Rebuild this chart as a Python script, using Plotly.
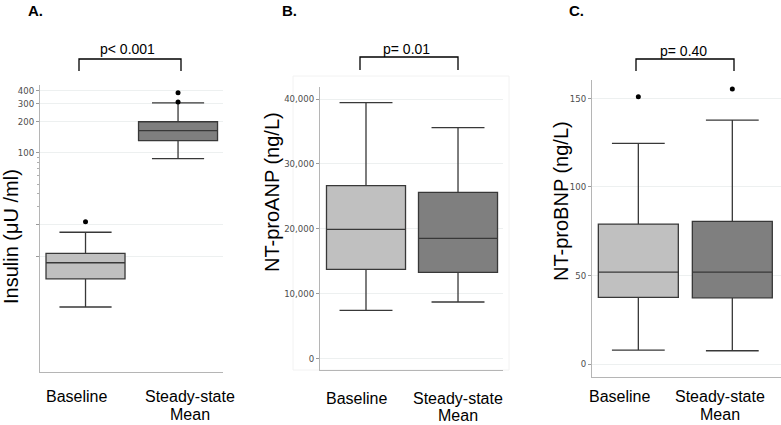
import plotly.graph_objects as go

W, H = 781, 425

# ---------------- data ----------------
groups = ["Baseline", "Steady-state Mean"]

# Insulin (μU/ml): q1, median, q3, lower whisker, upper whisker
ins_q1 = [6.0, 131.6]
ins_med = [8.6, 164.6]
ins_q3 = [10.6, 201.0]
ins_lo = [3.2, 88.0]
ins_hi = [17.0, 306.0]
ins_out = [[21.5], [313.0, 385.0]]

# NT-proANP (ng/L)
anp_q1 = [13735, 13272]
anp_med = [19907, 18519]
anp_q3 = [26636, 25617]
anp_lo = [7407, 8688]
anp_hi = [39444, 35586]
anp_out = [[], []]

# NT-proBNP (ng/L)
bnp_q1 = [37.6, 37.4]
bnp_med = [51.9, 51.9]
bnp_q3 = [79.0, 80.5]
bnp_lo = [7.9, 7.5]
bnp_hi = [124.5, 137.7]
bnp_out = [[150.9], [155.2]]

p_values = ["p< 0.001", "p= 0.01", "p= 0.40"]
panel_tags = ["A.", "B.", "C."]
y_titles = ["Insulin (μU /ml)", "NT-proANP (ng/L)", "NT-proBNP (ng/L)"]

fills = ["#c0c0c0", "#7f7f7f"]
LINE = "#383838"
MAIN_FONT = "Arial, Liberation Sans, sans-serif"
TICK_FONT = "DejaVu Sans Condensed, Liberation Sans Narrow, Arial Narrow, sans-serif"


def px(x):
    return x / W


def py(y):
    return 1 - y / H


fig = go.Figure()

panels = [
    dict(q1=ins_q1, med=ins_med, q3=ins_q3, lo=ins_lo, hi=ins_hi, out=ins_out,
         xd=[40, 223], yd=[85, 372], width=0.854, ww=0.66),
    dict(q1=anp_q1, med=anp_med, q3=anp_q3, lo=anp_lo, hi=anp_hi, out=anp_out,
         xd=[320, 503], yd=[87, 370], width=0.859, ww=0.67),
    dict(q1=bnp_q1, med=bnp_med, q3=bnp_q3, lo=bnp_lo, hi=bnp_hi, out=bnp_out,
         xd=[592, 781], yd=[80, 377], width=0.851, ww=0.66),
]

for k, p in enumerate(panels):
    xa = "x" if k == 0 else f"x{k+1}"
    ya = "y" if k == 0 else f"y{k+1}"
    for i in range(2):
        fig.add_trace(go.Box(
            x=[i], q1=[p["q1"][i]], median=[p["med"][i]], q3=[p["q3"][i]],
            lowerfence=[p["lo"][i]], upperfence=[p["hi"][i]],
            width=p["width"], whiskerwidth=p["ww"],
            fillcolor=fills[i], line=dict(color=LINE, width=1.3),
            boxpoints=False, showlegend=False, name=groups[i],
            xaxis=xa, yaxis=ya, hoverinfo="skip"))
        if p["out"][i]:
            fig.add_trace(go.Scatter(
                x=[i] * len(p["out"][i]), y=p["out"][i], mode="markers",
                marker=dict(color="black", size=5), showlegend=False,
                xaxis=xa, yaxis=ya, hoverinfo="skip"))

axis_common = dict(showline=True, linecolor="#b5b5b5", linewidth=1,
                   zeroline=False)
grid_col = "#edf0f0"
tickfont = dict(family=TICK_FONT, size=9.5, color="#4d4d4d")

layout = dict(width=W, height=H, margin=dict(l=0, r=0, t=0, b=0),
              autosize=False, plot_bgcolor="white", paper_bgcolor="white")

# x axes
xranges = [[-0.492, 1.486], [-0.5, 1.489], [-0.493, 1.518]]
for k, p in enumerate(panels):
    key = "xaxis" if k == 0 else f"xaxis{k+1}"
    layout[key] = dict(domain=[px(p["xd"][0]), px(p["xd"][1])],
                       range=xranges[k], showticklabels=False, ticks="",
                       showgrid=False, anchor="y" if k == 0 else f"y{k+1}",
                       **axis_common)

# y axes
layout["yaxis"] = dict(domain=[py(panels[0]["yd"][1]), py(panels[0]["yd"][0])],
                       type="log", range=[-0.126, 2.660],
                       tickvals=[10, 20, 100, 200, 300, 400],
                       ticktext=["", "", "100", "200", "300", "400"],
                       ticks="outside", ticklen=3, tickcolor="#9a9a9a",
                       showgrid=True, gridcolor=grid_col, tickfont=tickfont,
                       minor=dict(tickvals=[30, 40, 50, 60, 70, 80, 90],
                                  ticks="outside", ticklen=2,
                                  tickcolor="#b0b0b0", showgrid=False),
                       anchor="x", **axis_common)
layout["yaxis2"] = dict(domain=[py(panels[1]["yd"][1]), py(panels[1]["yd"][0])],
                        range=[-1806, 41867],
                        tickvals=[0, 10000, 20000, 30000, 40000],
                        tickformat=",", ticks="outside", ticklen=3,
                        tickcolor="#9a9a9a", showgrid=True, gridcolor=grid_col,
                        tickfont=tickfont, anchor="x2", **axis_common)
layout["yaxis3"] = dict(domain=[py(panels[2]["yd"][1]), py(panels[2]["yd"][0])],
                        range=[-7.3, 160.3], tickvals=[0, 50, 100, 150],
                        ticks="outside", ticklen=3, tickcolor="#9a9a9a",
                        showgrid=True, gridcolor=grid_col, tickfont=tickfont,
                        anchor="x3", **axis_common)

fig.update_layout(**layout)

shapes = []
# faint panel frame in B
shapes.append(dict(type="rect", xref="paper", yref="paper",
                   x0=px(293), x1=px(509), y0=py(370), y1=py(76),
                   line=dict(color="#f2f2f2", width=1), layer="below"))
# significance brackets
brackets = [(79, 181, 59, 71), (360, 458, 57, 70), (636, 734, 59, 71)]
for x0, x1, yt, yb in brackets:
    shapes.append(dict(type="path", xref="paper", yref="paper",
                       path=f"M {px(x0)},{py(yb)} L {px(x0)},{py(yt)} "
                            f"L {px(x1)},{py(yt)} L {px(x1)},{py(yb)}",
                       line=dict(color="black", width=1.3)))
fig.update_layout(shapes=shapes)

ann = []
# p-values
p_pos = [(127, 49.5), (406, 49), (683, 51)]
for t, (x, y) in zip(p_values, p_pos):
    ann.append(dict(text=t, x=px(x), y=py(y), xref="paper", yref="paper",
                    showarrow=False, xanchor="center", yanchor="middle",
                    font=dict(family=MAIN_FONT, size=14, color="black")))
# panel tags
tag_pos = [(26, 10.5), (280, 10.5), (567, 10.5)]
for t, (x, y) in zip(panel_tags, tag_pos):
    ann.append(dict(text=f"<b>{t}</b>", x=px(x), y=py(y), xref="paper",
                    yref="paper", showarrow=False, xanchor="left",
                    yanchor="middle",
                    font=dict(family=MAIN_FONT, size=15, color="black")))
# y titles
yt_pos = [(11, 237), (272, 192), (561, 201)]
for t, (x, y) in zip(y_titles, yt_pos):
    ann.append(dict(text=t, x=px(x), y=py(y), xref="paper", yref="paper",
                    showarrow=False, textangle=-90, xanchor="center",
                    yanchor="middle",
                    font=dict(family=MAIN_FONT, size=20, color="black")))
# x category labels
xl_pos = [((76, 396), (190, 396), (190, 414)),
          ((356, 398), (457.5, 398), (457.5, 415.5)),
          ((619, 396), (719.5, 396), (719.5, 414))]
for (b, s, m) in xl_pos:
    parts = groups[1].split(" ")
    for t, (x, y) in zip([groups[0], parts[0], parts[1]], [b, s, m]):
        ann.append(dict(text=t, x=px(x), y=py(y), xref="paper", yref="paper",
                        showarrow=False, xanchor="center", yanchor="middle",
                        font=dict(family=MAIN_FONT, size=16, color="black")))
fig.update_layout(annotations=ann)

fig.write_html("out.html",
               config={"displayModeBar": False, "staticPlot": True},
               post_script="document.body.style.margin='0';"
                           "document.body.style.overflow='hidden';")
